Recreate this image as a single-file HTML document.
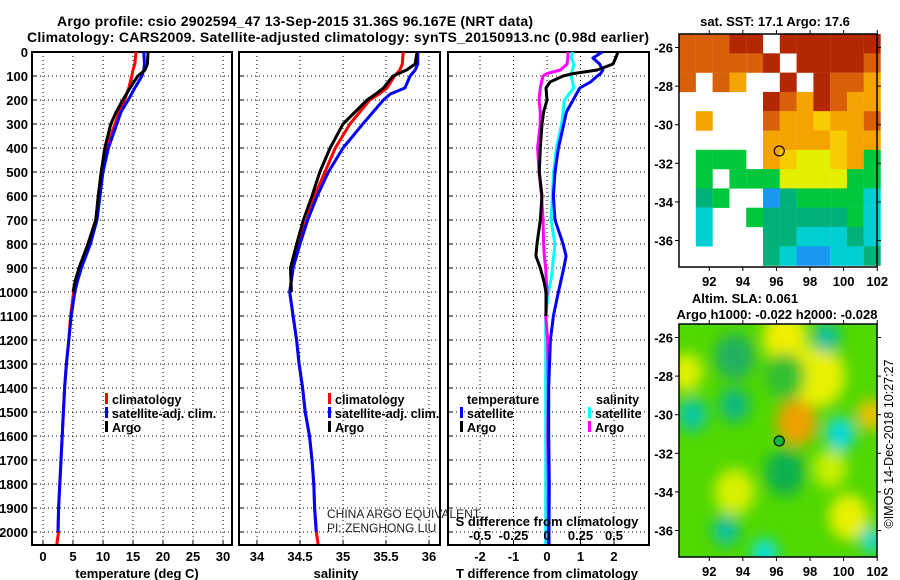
<!DOCTYPE html>
<html><head><meta charset="utf-8">
<style>
html,body{margin:0;padding:0;background:#fff;}
svg{display:block;font-family:"Liberation Sans",Arial,sans-serif;}
.b{font-weight:bold;}
</style></head>
<body>
<svg id="chart" width="900" height="580" viewBox="0 0 900 580" xmlns="http://www.w3.org/2000/svg">
<defs>
<filter id="blur" x="-50%" y="-50%" width="200%" height="200%"><feGaussianBlur stdDeviation="7"/></filter>
<clipPath id="clipSla"><rect x="679" y="324" width="198" height="233"/></clipPath>
</defs>
<g id="titles">
<text x="295" y="26" text-anchor="middle" class="b" font-size="14" textLength="476">Argo profile: csio 2902594_47 13-Sep-2015 31.36S 96.167E (NRT data)</text>
<text x="338" y="42" text-anchor="middle" class="b" font-size="14" textLength="622">Climatology: CARS2009. Satellite-adjusted climatology: synTS_20150913.nc (0.98d earlier)</text>
</g>
<g id="g1"></g><g id="g2"></g><g id="g3"></g><g id="m1"></g><g id="m2"></g>
</svg>
<script>
// ---------- data ----------
const depthsT = [0,50,75,100,150,200,250,300,400,500,600,700,800,900,950,1000,1100,1200,1300,1400,1500,1600,1700,1800,1900,2000];
const tempArgo = [17.5,17.4,17.0,15.8,14.5,13.3,12.2,11.3,10.3,9.7,9.2,8.8,7.5,6.0,5.4,5.0,4.6,4.2,3.9,3.6,3.4,3.2,3.0,2.8,2.6,2.5];
const tempClim = [15.5,15.3,15.0,14.8,14.3,13.6,12.7,12.0,10.5,9.7,9.3,8.8,7.5,6.0,5.5,5.1,4.6,4.3,3.9,3.6,3.4,3.2,3.0,2.8,2.6,2.5];
const tempSat  = [16.8,16.9,16.8,16.5,15.3,14.2,13.0,12.3,10.9,10.0,9.5,9.0,7.9,6.4,5.8,5.3,4.7,4.3,3.9,3.6,3.4,3.2,3.0,2.8,2.6,2.5];
const climDeepDepths = [2000,2050];
const tempClimDeep = [2.6,2.3];
const depthsS = [0,50,75,100,150,175,200,300,400,500,600,700,800,900,1000,1100,1200,1300,1400,1500,1600,1700,1800,1900,2000];
const salArgo = [35.86,35.84,35.74,35.58,35.47,35.38,35.28,35.00,34.85,34.73,34.64,34.54,34.46,34.39,34.40,34.42,34.46,34.49,34.53,34.56,34.61,34.64,34.66,34.67,34.69];
const salClim = [35.70,35.69,35.66,35.60,35.51,35.42,35.31,35.08,34.91,34.79,34.67,34.58,34.48,34.42,34.38,34.42,34.46,34.49,34.53,34.56,34.61,34.64,34.66,34.67,34.69];
const salSat  = [35.87,35.87,35.84,35.78,35.72,35.55,35.47,35.23,35.00,34.83,34.70,34.59,34.50,34.42,34.38,34.42,34.46,34.49,34.53,34.56,34.61,34.64,34.66,34.67,34.69];
const salClimDeep = [34.69,34.71];
const depthsD = [0,25,50,75,90,100,125,150,200,250,300,400,500,600,700,800,850,900,950,1000,1100,1200,1400,1600,1800,2000,2050];
const tdiffArgo = [2.12,2.05,1.97,1.5,0.78,0.48,0.09,-0.03,0,-0.1,-0.15,-0.2,-0.23,-0.15,-0.2,-0.3,-0.33,-0.2,-0.1,-0.03,-0.03,0,0,0,0,0.02,0.02];
const tdiffSat  = [1.65,1.37,1.57,1.67,1.6,1.5,1.3,0.98,0.78,0.58,0.5,0.34,0.24,0.19,0.24,0.48,0.57,0.5,0.42,0.34,0.19,0.1,0.05,0.05,0.07,0.06,0.06];
const sdiffArgo = [0.157,0.155,0.15,0.1,0,-0.03,-0.04,-0.05,-0.06,-0.05,-0.05,-0.07,-0.06,-0.04,-0.03,-0.025,-0.02,-0.01,-0.005,0,-0.01,0.005,0.01,0.005,0.01,0.01,0.01];
const sdiffSat  = [0.19,0.18,0.2,0.19,0.18,0.18,0.19,0.2,0.13,0.12,0.11,0.07,0.05,0.04,0.03,0.06,0.05,0.04,0.03,0.01,-0.01,-0.01,-0.01,-0.01,-0.01,-0.01,-0.01];
const depthTicks = [0,100,200,300,400,500,600,700,800,900,1000,1100,1200,1300,1400,1500,1600,1700,1800,1900,2000];
const tempTicks = [0,5,10,15,20,25,30];
const salTicks = [34,34.5,35,35.5,36];
const salTickLabels = ["34","34.5","35","35.5","36"];
const tdTicks = [-2,-1,0,1,2];
const sdTicks = [-0.5,-0.25,0,0.25,0.5];
const sdTickLabels = ["-0.5","-0.25","0","0.25","0.5"];
const lonTicks = [92,94,96,98,100,102];
const latTicks = [-26,-28,-30,-32,-34,-36];
const argoLon = 96.167, argoLat = -31.36;
// SST grid: rows from north (-25.3) to south, cols from 90.2 east, 1 deg cells
const sstRows = [
 "OOORRWRRRRRR",
 "OOOOORWRRRRO",
 "OWOoWWRWROOo",
 "WWWWWROoROoo",
 "WoWWWOooyooO",
 "WWWWWooooyoo",
 "WGGGWoyYYyoG",
 "WGWGGGYYYYGG",
 "WgGWWBgGGGGC",
 "WCWWGgggggGC",
 "WCWWWggCCCgC",
 "WWWWWgCBBCCg"];
const sstColors = {R:"#b32800",O:"#d8600a",o:"#f5a300",y:"#f8cc00",Y:"#e2f000",G:"#00c83c",g:"#00b27a",C:"#00cfd2",B:"#1898f0",W:"#ffffff"};
// SLA blobs: lon, lat, radius(deg), color
const slaLon = [96.5,90.6,98.5,97.2,93.5,100.3,101.6,99.2,91,93.5,99.8,96.5,93,95.3,101.7,99,93.5,96.5];
const slaLat = [-26,-27.8,-28,-30.4,-34,-35.3,-30,-32.8,-30,-29.5,-31,-33,-36,-37.2,-36.5,-26,-27,-28];
const slaRad = [1.3,1.0,1.6,1.2,1.2,1.2,0.8,1.0,0.9,0.9,0.9,1.2,0.8,0.8,0.7,0.8,1.2,1.2];
const slaCol = ["#f0f000","#e0f000","#e8f000","#f0a000","#d8f000","#e8f000","#f0c000","#c8f000","#10c8a0","#10b880","#10d8d8","#10b050","#10c0a0","#10e0d8","#10d8d0","#10c0a0","#20b060","#30c030"];

const NS="http://www.w3.org/2000/svg";
function el(tag, attrs, parent, txt){const e=document.createElementNS(NS,tag);for(const k in attrs)e.setAttribute(k,attrs[k]);if(txt!==undefined)e.textContent=txt;parent.appendChild(e);return e;}
const yD = d => 52 + d*0.24;
const PT = {l:32,r:232,x:v=>43+v*6};
const PS = {l:239,r:440,x:v=>257+(v-34)*86};
const PD = {l:448,r:649,x:v=>547+v*33.5};
const xSD = v => 547+v*134;
const TOP=52, BOT=545;

function frame(g,P,ticksX,labelsX,showY){
  for(const d of depthTicks){ if(d===0) continue;
    const l=el('line',{x1:P.l,x2:P.r,y1:yD(d),y2:yD(d),stroke:'#000','stroke-width':1,'stroke-dasharray':'1,3'},g);
    
    
  }
  ticksX.forEach((v)=>{const x=P.x(v);
    const l=el('line',{x1:x,x2:x,y1:TOP,y2:BOT,stroke:'#000','stroke-width':1,'stroke-dasharray':'1,3'},g);
    
    
  });
  const r=el('rect',{x:P.l,y:TOP,width:P.r-P.l,height:BOT-TOP,fill:'none',stroke:'#000','stroke-width':2},g);
  
  
  ticksX.forEach((v,i)=>{const x=P.x(v);
    el('line',{x1:x,x2:x,y1:BOT,y2:BOT-5,stroke:'#000'},g);
    const t=el('text',{x:x,y:561,'text-anchor':'middle','font-size':13,'font-weight':'bold'},g,labelsX[i]);
    
    
  });
  depthTicks.forEach(d=>{el('line',{x1:P.l,x2:P.l+5,y1:yD(d),y2:yD(d),stroke:'#000'},g);
    if(showY){const t=el('text',{x:28,y:yD(d)+5,'text-anchor':'end','font-size':13,'font-weight':'bold'},g,String(d));
      
      }
  });
}
function line(g,xs,ds,xf,color,name){
  const pts=xs.map((v,i)=>xf(v).toFixed(1)+','+yD(ds[i]).toFixed(1)).join(' ');
  const p=el('polyline',{points:pts,fill:'none',stroke:color,'stroke-width':3,'stroke-linejoin':'round'},g);
  
  
}
function legend(g,x,y,color,label){
  el('rect',{x:x,y:y-11,width:3,height:11,fill:color},g);
  const t=el('text',{x:x+7,y:y,'font-size':12.5,'font-weight':'bold'},g,label);
  
  
}
// Panel 1
const g1=document.getElementById('g1');


frame(g1,PT,tempTicks,tempTicks.map(String),true);
line(g1,tempClim.concat(tempClimDeep),depthsT.concat(climDeepDepths),PT.x,'#ff0000','temp-climatology-line');
line(g1,tempSat,depthsT,PT.x,'#0000ff','temp-satellite-line');
line(g1,tempArgo.slice(0,16),depthsT.slice(0,16),PT.x,'#000','temp-argo-line');
legend(g1,105,404,'#f00','climatology');legend(g1,105,418,'#00f','satellite-adj. clim.');legend(g1,105,432,'#000','Argo');
let t=el('text',{x:137,y:578,'text-anchor':'middle','font-size':13,'font-weight':'bold'},g1,'temperature (deg C)');


// Panel 2
const g2=document.getElementById('g2');


frame(g2,PS,salTicks,salTickLabels,false);
line(g2,salClim.concat(salClimDeep),depthsS.concat(climDeepDepths),PS.x,'#ff0000','sal-climatology-line');
line(g2,salSat,depthsS,PS.x,'#0000ff','sal-satellite-line');
line(g2,salArgo.slice(0,15),depthsS.slice(0,15),PS.x,'#000','sal-argo-line');
legend(g2,328,404,'#f00','climatology');legend(g2,328,418,'#00f','satellite-adj. clim.');legend(g2,328,432,'#000','Argo');
t=el('text',{x:336,y:578,'text-anchor':'middle','font-size':13,'font-weight':'bold'},g2,'salinity');


t=el('text',{x:327,y:518,'font-size':12,fill:'#222'},g2,'CHINA ARGO EQUIVALENT');


t=el('text',{x:327,y:532,'font-size':12,fill:'#222'},g2,'PI: ZENGHONG LIU');


// Panel 3
const g3=document.getElementById('g3');


frame(g3,PD,tdTicks,tdTicks.map(String),false);
line(g3,sdiffSat,depthsD,xSD,'#00ffff','sdiff-satellite-line');
line(g3,sdiffArgo,depthsD,xSD,'#ff00ff','sdiff-argo-line');
line(g3,tdiffSat,depthsD,PD.x,'#0000ff','tdiff-satellite-line');
line(g3,tdiffArgo.slice(0,21),depthsD.slice(0,21),PD.x,'#000','tdiff-argo-line');
t=el('text',{x:467,y:404,'font-size':12.5,'font-weight':'bold'},g3,'temperature');


t=el('text',{x:596,y:404,'font-size':12.5,'font-weight':'bold'},g3,'salinity');


legend(g3,460,418,'#00f','satellite');legend(g3,460,432,'#000','Argo');
legend(g3,588,418,'#0ff','satellite');legend(g3,588,432,'#f0f','Argo');
t=el('text',{x:547,y:526,'text-anchor':'middle','font-size':13,'font-weight':'bold'},g3,'S difference from climatology');


sdTicks.forEach((v,i)=>{const tt=el('text',{x:xSD(v),y:540,'text-anchor':'middle','font-size':13,'font-weight':'bold'},g3,sdTickLabels[i]);
  
  });
t=el('text',{x:547,y:578,'text-anchor':'middle','font-size':13,'font-weight':'bold'},g3,'T difference from climatology');



// Maps
const lonX = v => 679 + (v-90.2)*16.8;
function latY(top){return v => top + (-25.3 - v)*19.3;}
function mapAxes(g,top,bottom,labY){
  const ly=latY(top);
  const r=el('rect',{x:679,y:top,width:198,height:bottom-top,fill:'none',stroke:'#000','stroke-width':1.5},g);
  
  
  lonTicks.forEach(v=>{const x=lonX(v);el('line',{x1:x,x2:x,y1:bottom,y2:bottom+4,stroke:'#000'},g);el('line',{x1:x,x2:x,y1:top,y2:top-4,stroke:'#000'},g);
    const tt=el('text',{x:x,y:labY,'text-anchor':'middle','font-size':13,'font-weight':'bold'},g,String(v));
    
    });
  latTicks.forEach(v=>{const y=ly(v);el('line',{x1:675,x2:679,y1:y,y2:y,stroke:'#000'},g);el('line',{x1:877,x2:881,y1:y,y2:y,stroke:'#000'},g);
    const tt=el('text',{x:673,y:y+5,'text-anchor':'end','font-size':13,'font-weight':'bold'},g,String(v));
    
    });
}
const m1=document.getElementById('m1');


el('rect',{x:679,y:34,width:198,height:233,fill:'#fff'},m1);
sstRows.forEach((row,r)=>{for(let c=0;c<row.length;c++){const ch=row[c]; if(ch==='W')continue;
  const cell=el('rect',{x:lonX(90.2+c),y:latY(34)(-25.3-r),width:16.9,height:19.5,fill:sstColors[ch]},m1);
  
  }});
el('circle',{cx:lonX(argoLon),cy:latY(34)(argoLat),r:5,fill:'none',stroke:'#000','stroke-width':1.2},m1);
mapAxes(m1,34,267,286);
t=el('text',{x:775,y:26,'text-anchor':'middle','font-size':13,'font-weight':'bold'},m1,'sat. SST: 17.1 Argo: 17.6');



const m2=document.getElementById('m2');


const cg=el('g',{'clip-path':'url(#clipSla)'},m2);
el('rect',{x:679,y:324,width:198,height:233,fill:'#50d800'},cg);
const bg=el('g',{filter:'url(#blur)'},cg);
slaLon.forEach((lo,i)=>{const b=el('ellipse',{cx:lonX(lo),cy:latY(324)(slaLat[i]),rx:slaRad[i]*16.8,ry:slaRad[i]*19.3,fill:slaCol[i]},bg);
  
  });
el('circle',{cx:lonX(argoLon),cy:latY(324)(argoLat),r:5,fill:'#10b840',stroke:'#000','stroke-width':1.2},m2);
mapAxes(m2,324,557,576);
t=el('text',{x:745,y:303,'text-anchor':'middle','font-size':13,'font-weight':'bold'},m2,'Altim. SLA: 0.061');


t=el('text',{x:777,y:319,'text-anchor':'middle','font-size':13,'font-weight':'bold'},m2,'Argo h1000: -0.022 h2000: -0.028');


t=el('text',{x:0,y:0,'text-anchor':'middle','font-size':12.5,transform:'translate(893,444) rotate(-90)'},m2,'©IMOS 14-Dec-2018 10:27:27');


</script>
</body></html>
